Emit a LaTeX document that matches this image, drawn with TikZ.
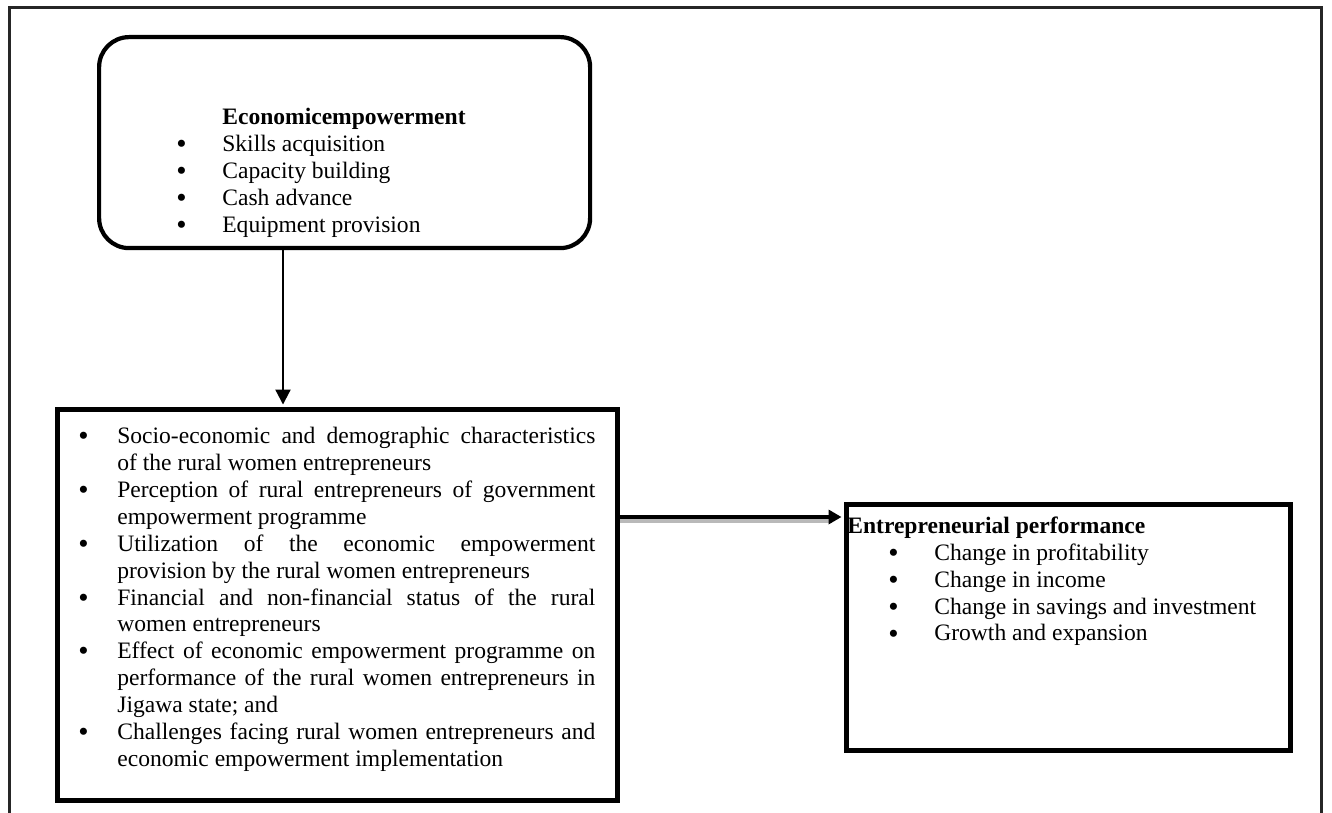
\documentclass[tikz,border=0pt]{standalone}
\usepackage{fontspec}
\setmainfont{Liberation Serif}
\usetikzlibrary{arrows.meta,positioning}

\newcommand{\bul}{\raisebox{-1.2pt}{\scalebox{1.25}{\textbullet}}}
\newcommand{\tbul}[1]{\makebox[0.92cm][l]{\bul}#1}
\newcommand{\lbul}[1]{\par\noindent\hangindent=0.78cm\hangafter=1\makebox[0.78cm][l]{\bul}#1}

\begin{document}
\begin{tikzpicture}[>={Triangle[length=3mm,width=3mm]},font=\fontsize{13.4}{15.3}\selectfont,
  box/.style={draw,line width=2.8pt,inner sep=0pt,anchor=north west},
  txt/.style={inner sep=0pt,anchor=north west}]
\useasboundingbox (0,0) rectangle (26.64,16.24);
\draw[line width=1.7pt,black!85] (0.19,-0.3) rectangle (26.43,16.09);
% boxes
\node[box,line width=2.4pt,rounded corners=0.6cm,minimum width=9.82cm,minimum height=4.22cm] (econ) at (1.94,15.54) {};
\node[box,minimum width=11.2cm,minimum height=7.82cm] (factors) at (1.10,8.10) {};
\node[box,minimum width=8.88cm,minimum height=4.92cm] (perf) at (16.88,6.20) {};
% texts
\node[txt,align=left,below right=1.46cm and 1.58cm of econ.north west] (econtext) {%
\hspace*{0.92cm}\textbf{Economicempowerment}\\
\tbul{Skills acquisition}\\
\tbul{Capacity building}\\
\tbul{Cash advance}\\
\tbul{Equipment provision}};
\node[txt,text width=10.34cm,align=justify,below right=0.19cm and 0.46cm of factors.north west] (factext) {%
\lbul{Socio-economic and demographic characteristics\linebreak of the rural women entrepreneurs}
\lbul{Perception of rural entrepreneurs of government\linebreak empowerment programme}
\lbul{Utilization of the economic empowerment\linebreak provision by the rural women entrepreneurs}
\lbul{Financial and non-financial status of the rural\linebreak women entrepreneurs}
\lbul{Effect of economic empowerment programme on\linebreak performance of the rural women entrepreneurs in\linebreak Jigawa state; and}
\lbul{Challenges facing rural women entrepreneurs and\linebreak economic empowerment implementation}\par};
\node[txt,align=left,below right=0.29cm and 0.06cm of perf.north west] (perftext) {%
\textbf{Entrepreneurial performance}\\
\hspace*{0.82cm}\tbul{Change in profitability}\\
\hspace*{0.82cm}\tbul{Change in income}\\
\hspace*{0.82cm}\tbul{Change in savings and investment}\\
\hspace*{0.82cm}\tbul{Growth and expansion}};
% arrows
\coordinate (ax) at (5.66,0);
\coordinate (ay) at (0,5.90);
\draw[->,line width=1.2pt,shorten >=1.4pt] (econ.south -| ax) -- (factors.north -| ax);
\draw[gray!55,line width=2pt] ([yshift=-0.08cm]factors.east |- ay) -- ([yshift=-0.08cm,xshift=-0.25cm]perf.west |- ay);
\draw[->,>={Triangle[length=2.6mm,width=2.8mm]},line width=2.2pt,shorten >=1.4pt] (factors.east |- ay) -- (perf.west |- ay);
\end{tikzpicture}
\end{document}
